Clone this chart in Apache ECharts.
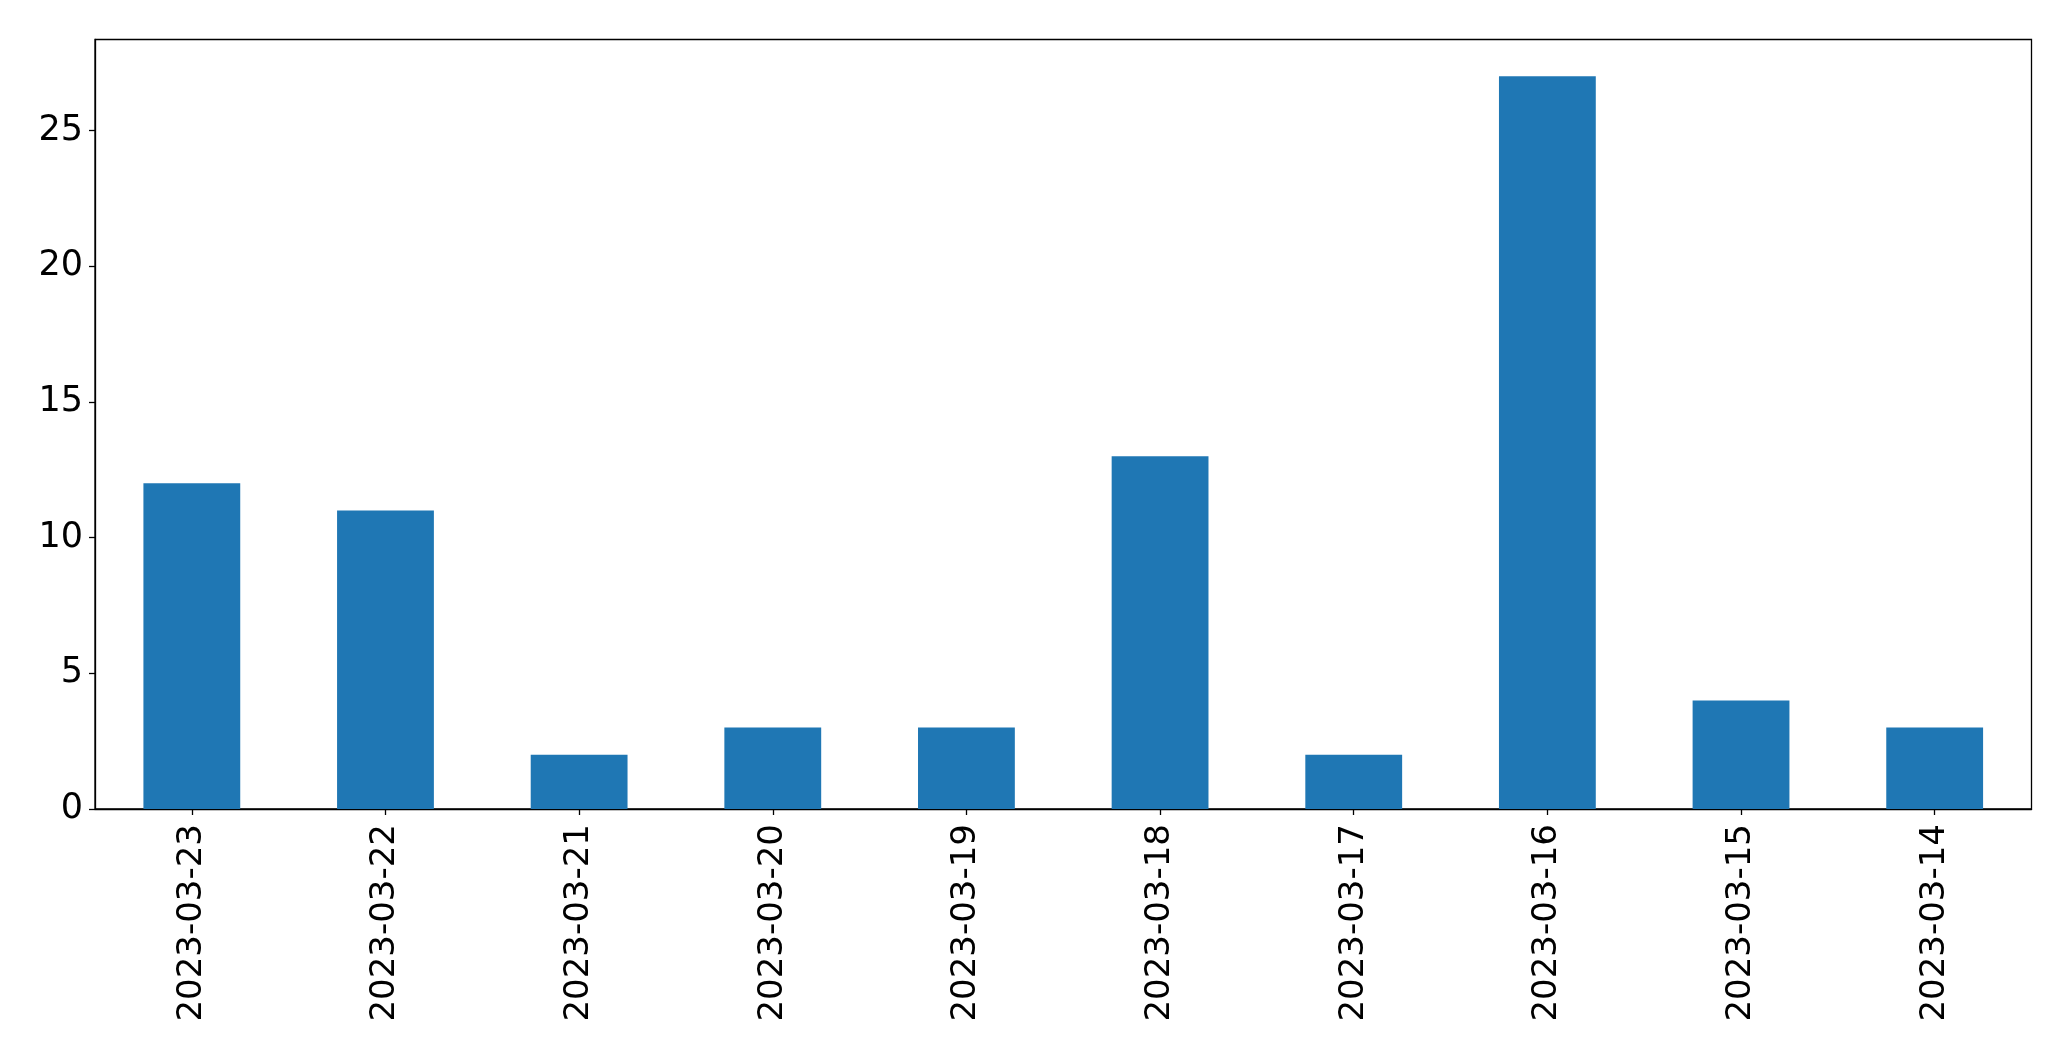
<!DOCTYPE html>
<html>
<head>
<meta charset="utf-8">
<script src="https://cdn.jsdelivr.net/npm/echarts@6/dist/echarts.min.js"></script>
<style>
html,body{margin:0;padding:0;background:#fff;}
#chart{width:2071px;height:1061px;}
</style>
</head>
<body>
<div id="chart"></div>
<script>
const categories = ["2023-03-23","2023-03-22","2023-03-21","2023-03-20","2023-03-19","2023-03-18","2023-03-17","2023-03-16","2023-03-15","2023-03-14"];
const counts = [12, 11, 2, 3, 3, 13, 2, 27, 4, 3];
const yTicks = [0, 5, 10, 15, 20, 25];

const chart = echarts.init(document.getElementById('chart'), null, {renderer: 'canvas'});
const font = 'DejaVu Sans';
chart.setOption({
  animation: false,
  backgroundColor: '#ffffff',
  grid: {
    left: 95, right: 39.5, top: 39.5, bottom: 252,
    show: true, borderColor: '#000', borderWidth: 1.3, backgroundColor: 'transparent',
    containLabel: false
  },
  xAxis: {
    type: 'category',
    data: categories,
    boundaryGap: true,
    axisLine: {show: true, lineStyle: {color: '#000', width: 1.3}},
    axisTick: {show: true, alignWithLabel: true, inside: false, length: 6, lineStyle: {color: '#000', width: 1.3}},
    axisLabel: {rotate: 90, fontFamily: font, fontSize: 34, color: '#000', margin: 15, interval: 0},
    splitLine: {show: false}
  },
  yAxis: {
    type: 'value',
    min: 0,
    max: 28.35,
    interval: 5,
    axisLine: {show: true, lineStyle: {color: '#000', width: 1.3}},
    axisTick: {show: true, inside: false, length: 6, lineStyle: {color: '#000', width: 1.3}},
    axisLabel: {fontFamily: font, fontSize: 35, color: '#000', margin: 12, showMaxLabel: false,
      formatter: v => (yTicks.indexOf(v) >= 0 ? String(v) : '')},
    splitLine: {show: false}
  },
  series: [{
    type: 'bar',
    data: counts,
    barWidth: '50%',
    itemStyle: {color: '#1f77b4'}
  }]
});
</script>
</body>
</html>
